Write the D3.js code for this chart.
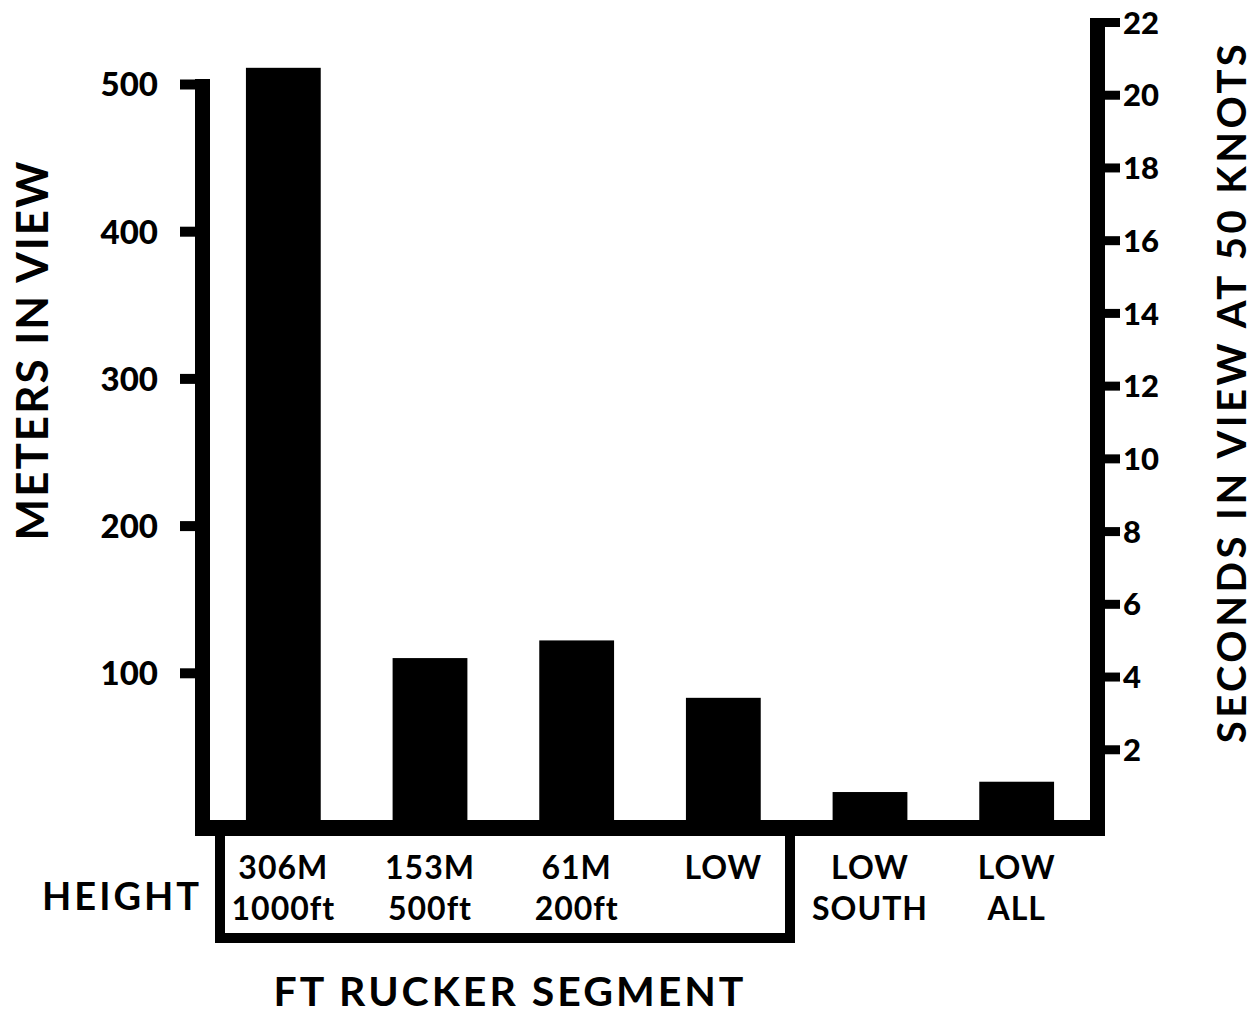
<!DOCTYPE html>
<html>
<head>
<meta charset="utf-8">
<script src="https://cdn.jsdelivr.net/npm/d3@7"></script>
<style>
  html, body { margin: 0; padding: 0; background: #fff; }
  text { font-family: Lato, "DejaVu Sans", sans-serif; font-weight: 700; fill: #000; }
</style>
</head>
<body>
<svg id="chart" width="1256" height="1015"></svg>
<script>
// ---- data ----
const categories = ["306M 1000ft", "153M 500ft", "61M 200ft", "LOW", "LOW SOUTH", "LOW ALL"];
const labelLine1 = ["306M", "153M", "61M", "LOW", "LOW", "LOW"];
const labelLine2 = ["1000ft", "500ft", "200ft", "", "SOUTH", "ALL"];
const metersInView = [511, 110, 122, 83, 19, 26];
const leftTicks = [100, 200, 300, 400, 500];
const rightTicks = [2, 4, 6, 8, 10, 12, 14, 16, 18, 20, 22];
const leftTitle = "METERS IN VIEW";
const rightTitle = "SECONDS IN VIEW AT 50 KNOTS";
const groupTitle = "FT RUCKER SEGMENT";
const rowTitle = "HEIGHT";

const svg = d3.select("#chart");

const x = d3.scaleBand().domain(categories).range([210, 1090]).paddingInner(0.49).paddingOuter(0.245);
const yL = d3.scaleLinear().domain([0, 500]).range([820, 84]);
const yR = d3.scaleLinear().domain([0, 22]).range([822, 22]);

// bars
svg.append("g").selectAll("rect").data(metersInView).join("rect")
  .attr("x", (d, i) => x(categories[i]))
  .attr("width", x.bandwidth())
  .attr("y", d => yL(d))
  .attr("height", d => yL(0) - yL(d) + 2)
  .attr("fill", "#000");

// left axis
const gL = svg.append("g").attr("transform", "translate(195,0)")
  .call(d3.axisLeft(yL).tickValues(leftTicks).tickSize(15).tickSizeOuter(0).tickPadding(22));
gL.select(".domain").remove();
gL.selectAll(".tick line").attr("stroke", "#000").attr("stroke-width", 10);
gL.selectAll(".tick text").style("font-size", "33px").style("font-weight", "900").attr("font-family", null).attr("dy", "0.36em");

// right axis
const gR = svg.append("g").attr("transform", "translate(1105,0)")
  .call(d3.axisRight(yR).tickValues(rightTicks).tickSize(15).tickSizeOuter(0).tickPadding(3));
gR.select(".domain").remove();
gR.selectAll(".tick line").attr("stroke", "#000").attr("stroke-width", 9);
gR.selectAll(".tick text").style("font-size", "31px").style("font-weight", "900").attr("font-family", null).attr("dy", "0.36em");

// frame lines
svg.append("rect").attr("x", 195).attr("y", yL(500) - 5).attr("width", 15).attr("height", 836 - (yL(500) - 5)).attr("fill", "#000");
svg.append("rect").attr("x", 1090).attr("y", yR(22) - 4).attr("width", 15).attr("height", 836 - (yR(22) - 4)).attr("fill", "#000");
svg.append("rect").attr("x", 195).attr("y", yL(0)).attr("width", 910).attr("height", 16).attr("fill", "#000");

// segment box
svg.append("path")
  .attr("d", "M220,836 V938 H790 V836")
  .attr("fill", "none").attr("stroke", "#000").attr("stroke-width", 10);

// category labels
const lab = svg.append("g").attr("text-anchor", "middle").style("font-size", "32px").style("letter-spacing", "1px");
lab.selectAll("text.l1").data(labelLine1).join("text").attr("class", "l1")
  .attr("x", (d, i) => x(categories[i]) + x.bandwidth() / 2).attr("y", 879).text(d => d);
lab.selectAll("text.l2").data(labelLine2).join("text").attr("class", "l2")
  .attr("x", (d, i) => x(categories[i]) + x.bandwidth() / 2).attr("y", 920).text(d => d);

// titles
svg.append("text").attr("x", 42).attr("y", 910).style("font-size", "38px").style("letter-spacing", "3px").text(rowTitle);
svg.append("text").attr("x", 510).attr("y", 1006).attr("text-anchor", "middle").style("font-size", "41px").style("letter-spacing", "3px").text(groupTitle);
svg.append("text").attr("transform", "translate(48,350) rotate(-90)").attr("text-anchor", "middle")
  .style("font-size", "44px").style("letter-spacing", "2px").text(leftTitle);
svg.append("text").attr("transform", "translate(1246,392) rotate(-90)").attr("text-anchor", "middle")
  .style("font-size", "40px").style("letter-spacing", "3.5px").text(rightTitle);
</script>
</body>
</html>
